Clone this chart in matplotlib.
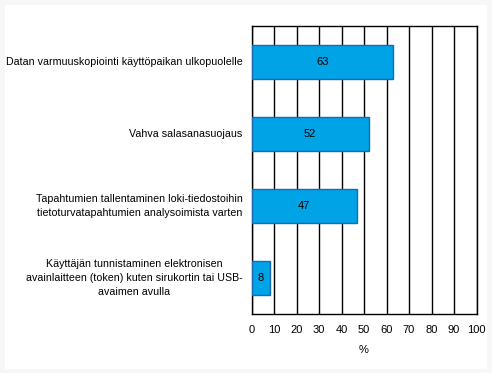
import matplotlib.pyplot as plt
from matplotlib.patches import Rectangle

plt.rcParams['font.family'] = ['Liberation Sans', 'DejaVu Sans']

# Data
kategoriat = [
    'Datan varmuuskopiointi käyttöpaikan ulkopuolelle',
    'Vahva salasanasuojaus',
    'Tapahtumien tallentaminen loki-tiedostoihin\ntietoturvatapahtumien analysoimista varten',
    'Käyttäjän tunnistaminen elektronisen\navainlaitteen (token) kuten sirukortin tai USB-\navaimen avulla',
]
arvot = [63, 52, 47, 8]
tasaus = ['right', 'right', 'right', 'center']
xtikit = list(range(0, 101, 10))

fig = plt.figure(figsize=(4.92, 3.73), dpi=100)
fig.patch.set_facecolor('#f7f7f7')
# white inner area with light border
fig.patches.append(Rectangle((5 / 492, 4 / 373), 1 - 10 / 492, 1 - 9 / 373,
                             transform=fig.transFigure, facecolor='white',
                             edgecolor='none', zorder=-10))

ax = fig.add_axes([251.5 / 492, 1 - 314 / 373, 225 / 492, 288 / 373])
ax.set_facecolor('white')

y = list(range(len(arvot)))
ax.barh(y, arvot, height=0.47, color='#00a3e6', edgecolor='#1a6ab0',
        linewidth=1, zorder=3)

for yi, v in zip(y, arvot):
    ax.text(v / 2, yi, str(v), ha='center', va='center', fontsize=8, zorder=4)

ax.set_xlim(0, 100)
ax.set_ylim(len(arvot) - 0.5, -0.5)
ax.set_xticks(xtikit)
ax.set_xticklabels([str(t) for t in xtikit], fontsize=8)
ax.set_yticks(y)
ax.set_yticklabels([])
for yi, lab, al in zip(y, kategoriat, tasaus):
    ax.text(-0.04, yi, lab, transform=ax.get_yaxis_transform(), ha='right',
            va='center', multialignment=al, fontsize=7.7, linespacing=1.5)

ax.tick_params(axis='both', length=0)
ax.tick_params(axis='x', pad=8)
ax.xaxis.grid(True, color='black', linewidth=1, zorder=0)
ax.set_axisbelow(True)
for s in ax.spines.values():
    s.set_color('black')
    s.set_linewidth(1)

ax.set_xlabel('%', fontsize=8, labelpad=7)

fig.savefig('out.png', dpi=100, facecolor=fig.get_facecolor())
